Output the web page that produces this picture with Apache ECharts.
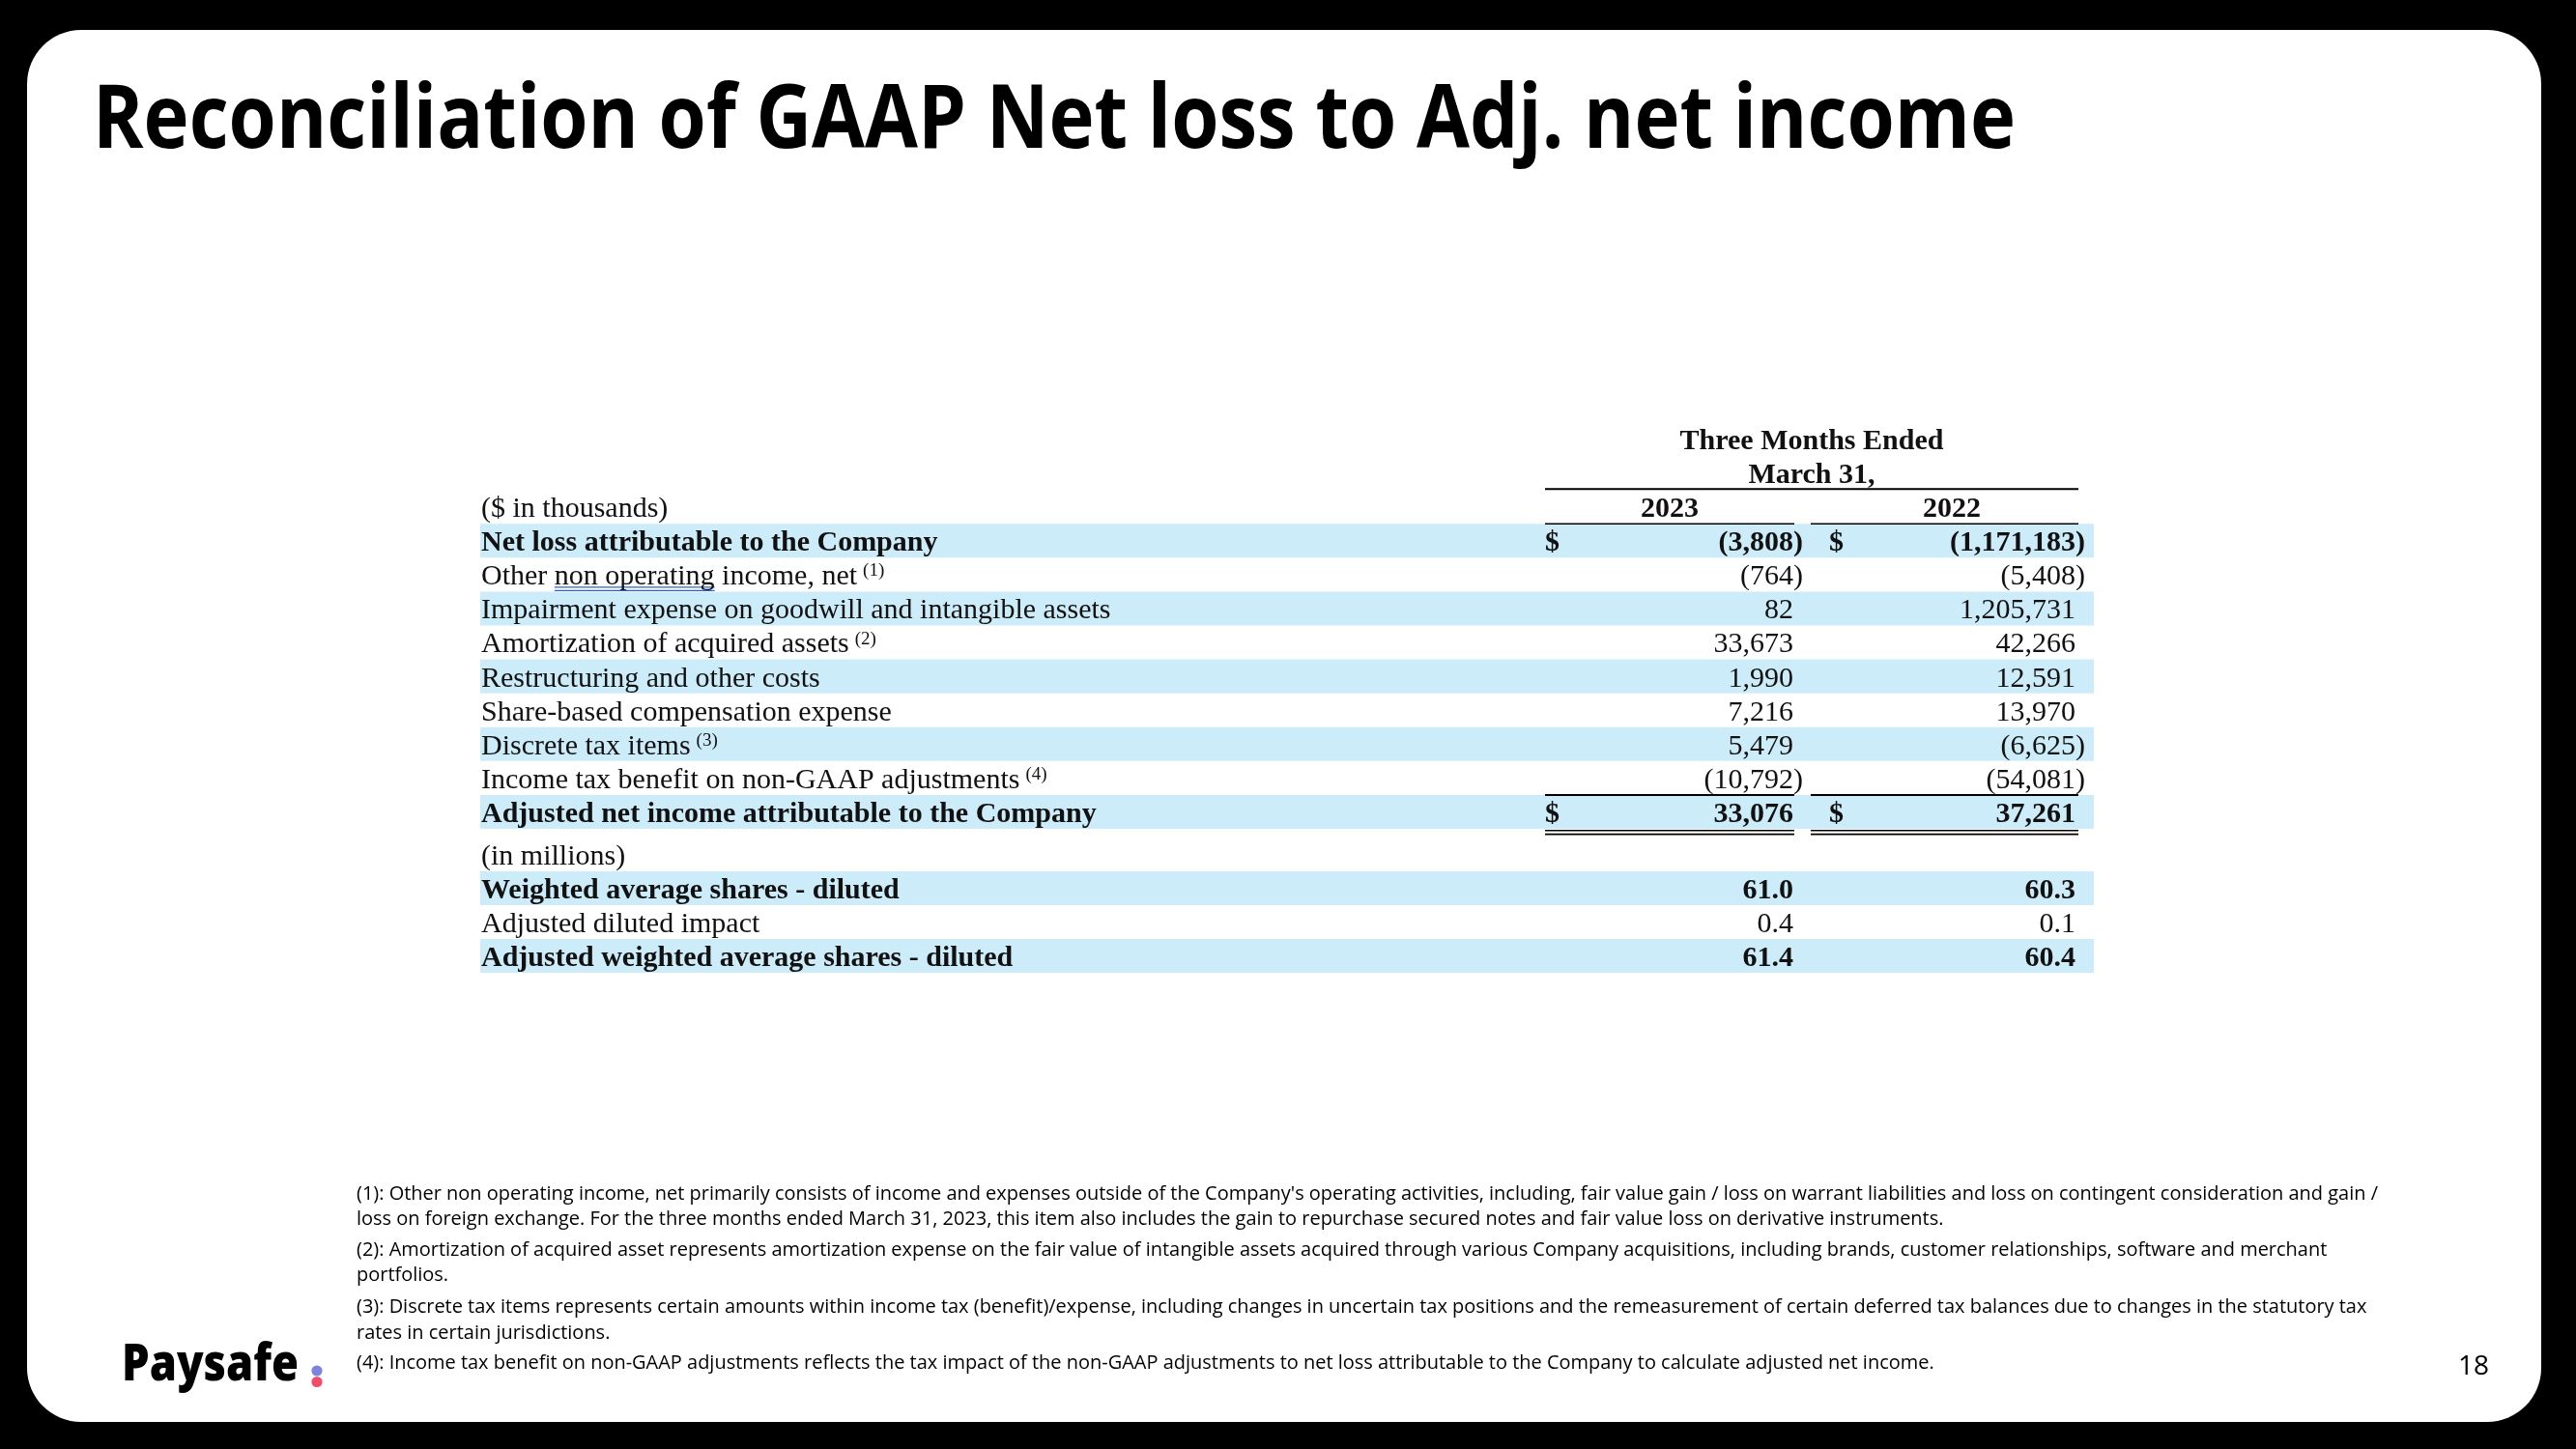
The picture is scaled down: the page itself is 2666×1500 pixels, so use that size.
<!DOCTYPE html>
<html>
<head>
<meta charset="utf-8">
<script src="https://cdn.jsdelivr.net/npm/echarts/dist/echarts.min.js"></script>
<style>
html, body { margin: 0; padding: 0; background: #000; }
#c { width: 2666px; height: 1500px; }
</style>
</head>
<body>
<div id="c"></div>
<script>
// ---------- DATA ----------
const titleText = 'Reconciliation of GAAP Net loss to Adj. net income';
const periodHeader = ['Three Months Ended', 'March 31,'];
const years = ['2023', '2022'];
const unitThousands = '($ in thousands)';
const unitMillions = '(in millions)';
const rowLabels = [
  'Net loss attributable to the Company',
  'Other non operating income, net',
  'Impairment expense on goodwill and intangible assets',
  'Amortization of acquired assets',
  'Restructuring and other costs',
  'Share-based compensation expense',
  'Discrete tax items',
  'Income tax benefit on non-GAAP adjustments',
  'Adjusted net income attributable to the Company'
];
const rowNotes = ['', '(1)', '', '(2)', '', '', '(3)', '(4)', ''];
const values2023 = [-3808, -764, 82, 33673, 1990, 7216, 5479, -10792, 33076];
const values2022 = [-1171183, -5408, 1205731, 42266, 12591, 13970, -6625, -54081, 37261];
const boldRows = [0, 8];
const shareLabels = [
  'Weighted average shares - diluted',
  'Adjusted diluted impact',
  'Adjusted weighted average shares - diluted'
];
const shares2023 = [61.0, 0.4, 61.4];
const shares2022 = [60.3, 0.1, 60.4];
const shareBoldRows = [0, 2];
const markedPhrase = 'non operating';
const footnoteLines = [
  "(1): Other non operating income, net primarily consists of income and expenses outside of the Company's operating activities, including, fair value gain / loss on warrant liabilities and loss on contingent consideration and gain /",
  "loss on foreign exchange. For the three months ended March 31, 2023, this item also includes the gain to repurchase secured notes and fair value loss on derivative instruments.",
  "(2): Amortization of acquired asset represents amortization expense on the fair value of intangible assets acquired through various Company acquisitions, including brands, customer relationships, software and merchant",
  "portfolios.",
  "(3): Discrete tax items represents certain amounts within income tax (benefit)/expense, including changes in uncertain tax positions and the remeasurement of certain deferred tax balances due to changes in the statutory tax",
  "rates in certain jurisdictions.",
  "(4): Income tax benefit on non-GAAP adjustments reflects the tax impact of the non-GAAP adjustments to net loss attributable to the Company to calculate adjusted net income."
];
const brandName = 'Paysafe';
const pageNumber = '18';

// ---------- STYLE / LAYOUT ----------
const SERIF = '"Liberation Serif", "Times New Roman", serif';
const SANS = '"Open Sans", "Noto Sans", sans-serif';
const FS = 30;
const TY = 2.5; // serif text vertical nudge inside the row
const BAND = '#cdecf9';
const INK = '#111';
const COL = {
  label: 1, header: 1378, year1: 1231, year2: 1523,
  dollar1: 1102, val1: 1359, dollar2: 1396, val2: 1651,
  l1a: 1102, l1b: 1360, l2a: 1377, l2b: 1654
};

const mctx = document.createElement('canvas').getContext('2d');
function tw(str, weight, size, family) {
  mctx.font = weight + ' ' + size + 'px ' + family;
  return mctx.measureText(str).width;
}

function txt(x, y, s, o) {
  o = o || {};
  return {
    type: 'text', x: x, y: y + TY, z2: 20,
    style: {
      text: s, fill: o.fill || INK, fontFamily: o.family || SERIF,
      fontSize: o.size || FS, fontWeight: o.bold ? 'bold' : 'normal',
      align: o.align || 'left', verticalAlign: 'middle'
    }
  };
}
function hline(x1, x2, y, w, color) {
  return { type: 'line', z2: 10, shape: { x1: x1, y1: y, x2: x2, y2: y },
    style: { stroke: color || '#000', lineWidth: w } };
}
function band(x, y, w, h) {
  return { type: 'rect', z2: 0, shape: { x: x, y: y, width: w, height: h }, style: { fill: BAND } };
}
function fmtK(v) {
  const s = Math.abs(v).toLocaleString('en-US');
  return v < 0 ? '(' + s + ')' : s;
}

function labelElements(X, cy, label, note, bold, kids) {
  const w = bold ? 'bold' : 'normal';
  const x0 = X + COL.label;
  kids.push(txt(x0, cy, label, { bold: bold }));
  const idx = label.indexOf(markedPhrase);
  if (idx >= 0) {
    const ux = x0 + tw(label.slice(0, idx), w, FS, SERIF);
    const uw = tw(markedPhrase, w, FS, SERIF);
    kids.push(hline(ux, ux + uw, cy + 13, 1.4, '#2f62c8'));
    kids.push(hline(ux, ux + uw, cy + 16.5, 1.4, '#2f62c8'));
  }
  if (note) {
    const nx = x0 + tw(label, w, FS, SERIF) + 6;
    kids.push(txt(nx, cy - 6, note, { size: 19 }));
  }
}

function valueElements(X, cy, v1, v2, isMoney, bold, showDollar, kids) {
  const w = bold ? 'bold' : 'normal';
  const paren = tw(')', w, FS, SERIF);
  const f = isMoney ? fmtK : function (v) { return v.toFixed(1); };
  if (showDollar) {
    kids.push(txt(X + COL.dollar1, cy, '$', { bold: bold }));
    kids.push(txt(X + COL.dollar2, cy, '$', { bold: bold }));
  }
  kids.push(txt(X + COL.val1 + (v1 < 0 ? paren : 0), cy, f(v1), { bold: bold, align: 'right' }));
  kids.push(txt(X + COL.val2 + (v2 < 0 ? paren : 0), cy, f(v2), { bold: bold, align: 'right' }));
}

const topCats = [periodHeader[0], periodHeader[1], unitThousands].concat(rowLabels);
const botCats = [unitMillions].concat(shareLabels);

function renderTop(params, api) {
  const i = api.value(1);
  const rect = params.coordSys;
  const cy = api.coord([0, i])[1];
  const h = api.size([0, 1])[1];
  const X = rect.x;
  const kids = [];
  if (i === 0 || i === 1) {
    kids.push(txt(X + COL.header, cy, periodHeader[i], { bold: true, align: 'center' }));
    if (i === 1) kids.push(hline(X + COL.l1a, X + COL.l2b, cy + h / 2 - 1, 2));
  } else if (i === 2) {
    kids.push(txt(X + COL.label, cy, unitThousands, {}));
    kids.push(txt(X + COL.year1, cy, years[0], { bold: true, align: 'center' }));
    kids.push(txt(X + COL.year2, cy, years[1], { bold: true, align: 'center' }));
    kids.push(hline(X + COL.l1a, X + COL.l1b, cy + h / 2, 1.6));
    kids.push(hline(X + COL.l2a, X + COL.l2b, cy + h / 2, 1.6));
  } else {
    const r = i - 3;
    const bold = boldRows.indexOf(r) >= 0;
    const last = r === rowLabels.length - 1;
    if (r % 2 === 0) kids.push(band(X, cy - h / 2, rect.width, h));
    labelElements(X, cy, rowLabels[r], rowNotes[r], bold, kids);
    valueElements(X, cy, values2023[r], values2022[r], true, bold, r === 0 || last, kids);
    if (last) {
      kids.push(hline(X + COL.l1a, X + COL.l1b, cy - h / 2, 2));
      kids.push(hline(X + COL.l2a, X + COL.l2b, cy - h / 2, 2));
      [1.8, 5.6].forEach(function (d) {
        kids.push(hline(X + COL.l1a, X + COL.l1b, cy + h / 2 + d, 1.6));
        kids.push(hline(X + COL.l2a, X + COL.l2b, cy + h / 2 + d, 1.6));
      });
    }
  }
  return { type: 'group', children: kids };
}

function renderBottom(params, api) {
  const i = api.value(1);
  const rect = params.coordSys;
  const cy = api.coord([0, i])[1];
  const h = api.size([0, 1])[1];
  const X = rect.x;
  const kids = [];
  if (i === 0) {
    kids.push(txt(X + COL.label, cy, unitMillions, {}));
  } else {
    const r = i - 1;
    const bold = shareBoldRows.indexOf(r) >= 0;
    if (r % 2 === 0) kids.push(band(X, cy - h / 2, rect.width, h));
    labelElements(X, cy, shareLabels[r], '', bold, kids);
    valueElements(X, cy, shares2023[r], shares2022[r], false, bold, false, kids);
  }
  return { type: 'group', children: kids };
}

// ---------- DECORATION (fit condensed sans text) ----------
const titleSize = 91;
const titleWeight = 'bold';
const titleScale = 1990 / tw(titleText, titleWeight, titleSize, SANS);
const footSize = 19.5;
const footScale = 2092 / tw(footnoteLines[0], 'normal', footSize, SANS);
const footY = [1236, 1262, 1294, 1320, 1353, 1380, 1411];
const brandSize = 53;
const brandWeight = 800;
const brandScale = 183 / tw(brandName, brandWeight, brandSize, SANS);

const graphics = [
  { type: 'rect', z: -10, shape: { x: 28, y: 31, width: 2602, height: 1441, r: 56 }, style: { fill: '#fff' } },
  { type: 'text', z: 10, x: 96, y: 127, scaleX: titleScale,
    style: { text: titleText, fontFamily: SANS, fontSize: titleSize, fontWeight: titleWeight, fill: '#000', verticalAlign: 'middle' } },
  { type: 'text', z: 10, x: 126, y: 1414, scaleX: brandScale,
    style: { text: brandName, fontFamily: SANS, fontSize: brandSize, fontWeight: brandWeight, fill: '#000', verticalAlign: 'middle' } },
  { type: 'circle', z: 10, shape: { cx: 328, cy: 1419, r: 5.6 }, style: { fill: '#7b86db' } },
  { type: 'circle', z: 10, shape: { cx: 328, cy: 1430.5, r: 5.6 }, style: { fill: '#f04d6d' } },
  { type: 'text', z: 10, x: 2560, y: 1415,
    style: { text: pageNumber, fontFamily: SANS, fontSize: 28, fill: '#000', align: 'center', verticalAlign: 'middle' } }
];
footnoteLines.forEach(function (line, k) {
  graphics.push({ type: 'text', z: 10, x: 369, y: footY[k], scaleX: footScale,
    style: { text: line, fontFamily: SANS, fontSize: footSize, fill: '#000', verticalAlign: 'middle' } });
});

const chart = echarts.init(document.getElementById('c'), null, { renderer: 'canvas', width: 2666, height: 1500 });
chart.setOption({
  backgroundColor: '#000',
  animation: false,
  graphic: { elements: graphics },
  grid: [
    { left: 497, top: 437, width: 1670, height: 421 },
    { left: 497, top: 867, width: 1670, height: 140 }
  ],
  xAxis: [
    { gridIndex: 0, type: 'value', min: 0, max: 1, show: false },
    { gridIndex: 1, type: 'value', min: 0, max: 1, show: false }
  ],
  yAxis: [
    { gridIndex: 0, type: 'category', data: topCats, inverse: true, show: false },
    { gridIndex: 1, type: 'category', data: botCats, inverse: true, show: false }
  ],
  series: [
    { type: 'custom', xAxisIndex: 0, yAxisIndex: 0, renderItem: renderTop,
      data: topCats.map(function (_, i) { return [0, i]; }), silent: true },
    { type: 'custom', xAxisIndex: 1, yAxisIndex: 1, renderItem: renderBottom,
      data: botCats.map(function (_, i) { return [0, i]; }), silent: true }
  ]
});
</script>
</body>
</html>
